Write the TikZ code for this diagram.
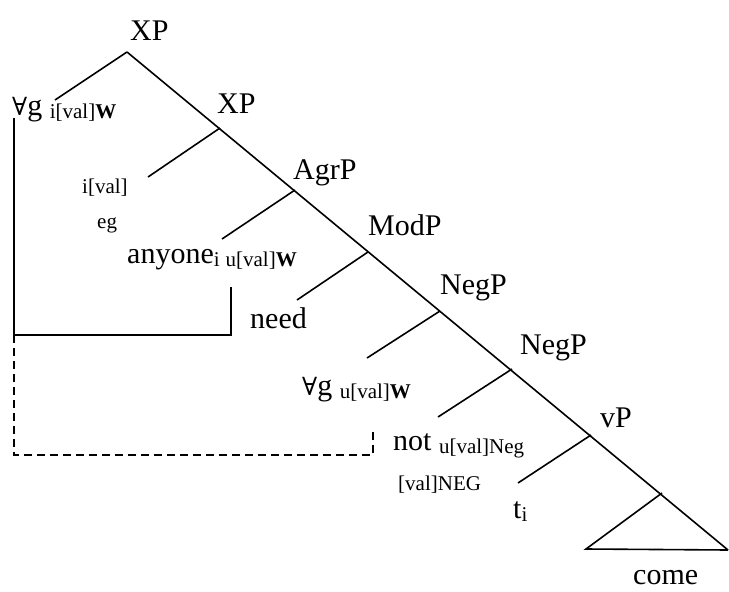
\documentclass[tikz,border=0pt]{standalone}
\usepackage{fontspec}
\setmainfont{Liberation Serif}
\newfontfamily\symfnt{DejaVu Serif}

\tikzset{
  lbl/.style={anchor=base west, inner sep=0pt, font=\fontsize{30}{36}\selectfont},
  feat/.style={anchor=base west, inner sep=0pt, font=\fontsize{21}{25}\selectfont},
  branch/.style={line width=1.6pt},
  chain/.style={line width=1.6pt},
  dchain/.style={line width=1.6pt, dash pattern=on 8pt off 5pt},
}
\newcommand{\lowfeat}[1]{\raisebox{-3pt}{\fontsize{21}{25}\selectfont #1}}
\newcommand{\allq}{{\symfnt\fontsize{25}{30}\selectfont ∀}}

\begin{document}
\begin{tikzpicture}[x=1pt,y=-1pt]
      \useasboundingbox (0,0) rectangle (729,592);
      % spine
      \coordinate(xptop) at (127,52);
      \coordinate(xplow) at (220,128);
      \coordinate(agrp) at (295,190);
      \coordinate(modp) at (368,252);
      \coordinate(negpa) at (440,311);
      \coordinate(negpb) at (512,369);
      \coordinate(vp) at (591,435);
      \coordinate(tritop) at (662,493);
      \coordinate(triright) at (728,550);
      \coordinate(trileft) at (586,549);
      % left daughters
      \coordinate(spec) at (55,100);
      \coordinate(xphead) at (148,177);
      \coordinate(agrhead) at (222,239);
      \coordinate(modhead) at (297,300);
      \coordinate(neghead) at (367,358);
      \coordinate(negspec) at (438,417);
      \coordinate(vphead) at (518,483);
      % chain corners
      \coordinate(ctop) at (14,118);
      \coordinate(cmid) at (14,335);
      \coordinate(cbox) at (231,335);
      \coordinate(cend) at (231,287);
      \coordinate(dlow) at (14,455);
      \coordinate(dbox) at (373,455);
      \coordinate(dend) at (373,431);

      \node[lbl](xp1) at (130,40) {XP};
      \node[lbl](xp2) at (217,113) {XP};
      \node[lbl](agr) at (293,179) {AgrP};
      \node[lbl](mod) at (368,235) {ModP};
      \node[lbl](neg1) at (440,294) {NegP};
      \node[lbl](neg2) at (520,354) {NegP};
      \node[lbl](vpl) at (600,427) {vP};
      \node[lbl](come) at (633,584) {come};

      \node[lbl](opa) at (12,115) {\allq g \lowfeat{i[val]\textbf{W}}};
      \node[feat](ival) at (82,193) {i[val]};
      \node[feat](eg) at (97,228) {eg};
      \node[lbl](anyone) at (127,263) {anyone\lowfeat{i\hspace{6pt}u[val]\textbf{W}}};
      \node[lbl](need) at (250,328) {need};
      \node[lbl](opb) at (302,395) {\allq g \lowfeat{u[val]\textbf{W}}};
      \node[lbl](nott) at (393,450) {not \lowfeat{u[val]Neg}};
      \node[feat](valneg) at (398,490) {[val]NEG};
      \node[lbl](trace) at (513,518) {t\lowfeat{i}};

      \draw[branch] (xptop) -- (triright);
      \draw[branch] (xptop) -- (spec);
      \draw[branch] (xplow) -- (xphead);
      \draw[branch] (agrp) -- (agrhead);
      \draw[branch] (modp) -- (modhead);
      \draw[branch] (negpa) -- (neghead);
      \draw[branch] (negpb) -- (negspec);
      \draw[branch] (vp) -- (vphead);
      \draw[branch] (tritop) -- (trileft) -- (triright);

      \draw[chain] (ctop) -- (cmid) -- (cbox) -- (cend);
      \draw[dchain] (cmid) -- (dlow) -- (dbox) -- (dend);
    \end{tikzpicture}
\end{document}
